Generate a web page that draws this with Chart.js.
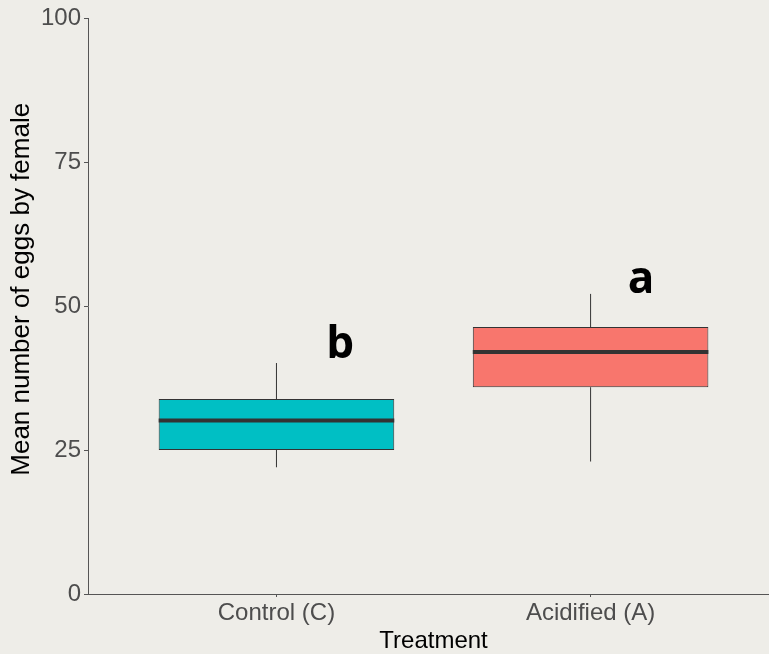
<!DOCTYPE html>
<html>
<head>
<meta charset="utf-8">
<script src="https://cdn.jsdelivr.net/npm/chart.js@4"></script>
<style>
  html, body { margin: 0; padding: 0; background: #EEEDE8; overflow: hidden; }
  #wrap { width: 769px; height: 654px; }
</style>
</head>
<body>
<div id="wrap"><canvas id="c" width="769" height="654"></canvas></div>
<script>
// Treatments and their box-plot summaries (eggs per female)
const categories = ['Control (C)', 'Acidified (A)'];
const positions = [1, 2];
const whiskerLow = [22.0, 23.0];
const q1 = [25.0, 35.9];
const median = [30.1, 42.0];
const q3 = [33.85, 46.35];
const whiskerHigh = [40.1, 52.1];
const fills = ['#00BFC4', '#F8766D'];

// Significance letters
const letters = ['b', 'a'];
const letterX = [1.2025, 2.161];
const letterY = [41.0, 52.3];

const yTicks = [0, 25, 50, 75, 100];
const xTitle = 'Treatment';
const yTitle = 'Mean number of eggs by female';
const boxHalf = 0.375;

const boxData = positions.map((x, i) => ({ x: x, y: [q1[i], q3[i]] }));

const medianData = [];
positions.forEach((x, i) => {
  if (i > 0) medianData.push({ x: x - 0.5, y: null });
  medianData.push({ x: x - boxHalf, y: median[i] });
  medianData.push({ x: x + boxHalf, y: median[i] });
});

const whiskerData = [];
positions.forEach((x, i) => {
  if (i > 0) whiskerData.push({ x: x - 0.5, y: null });
  whiskerData.push({ x: x, y: whiskerLow[i] });
  whiskerData.push({ x: x, y: q1[i] });
  whiskerData.push({ x: x + 0.001, y: null });
  whiskerData.push({ x: x, y: q3[i] });
  whiskerData.push({ x: x, y: whiskerHigh[i] });
});

const fontFamily = '"Liberation Sans", Arial, sans-serif';

// Letters above the boxes and the two axis titles
const textPlugin = {
  id: 'texts',
  afterDatasetsDraw(chart) {
    const { ctx, scales } = chart;
    ctx.save();
    ctx.fillStyle = '#000';
    ctx.font = 'bold 44px "Open Sans", sans-serif';
    ctx.textAlign = 'center';
    ctx.textBaseline = 'alphabetic';
    letters.forEach((t, i) => {
      ctx.fillText(t, scales.x.getPixelForValue(letterX[i]), scales.y.getPixelForValue(letterY[i]));
    });

    ctx.textBaseline = 'middle';
    ctx.font = '24px ' + fontFamily;
    ctx.fillText(xTitle, scales.x.getPixelForValue(1.5), 641);

    ctx.font = '26px ' + fontFamily;
    ctx.translate(22, scales.y.getPixelForValue(52.9));
    ctx.rotate(-Math.PI / 2);
    ctx.fillText(yTitle, 0, 0);
    ctx.restore();
  }
};

const tickFont = { family: fontFamily, size: 24 };

new Chart(document.getElementById('c'), {
  type: 'bar',
  data: {
    datasets: [
      {
        type: 'line',
        data: whiskerData,
        borderColor: '#333333',
        borderWidth: 1,
        pointRadius: 0,
        spanGaps: false,
        order: 3
      },
      {
        type: 'bar',
        data: boxData,
        backgroundColor: fills,
        borderColor: '#333333',
        borderWidth: 1,
        borderSkipped: false,
        categoryPercentage: 1,
        barPercentage: 0.75,
        order: 2
      },
      {
        type: 'line',
        data: medianData,
        borderColor: '#333333',
        borderWidth: 4,
        borderCapStyle: 'butt',
        pointRadius: 0,
        spanGaps: false,
        order: 1
      }
    ]
  },
  options: {
    responsive: false,
    animation: false,
    layout: { padding: { top: 18, right: 0, left: 0, bottom: 0 } },
    plugins: { legend: { display: false }, tooltip: { enabled: false } },
    scales: {
      x: {
        type: 'linear',
        offset: false,
        min: 0.4,
        max: 2.568,
        afterBuildTicks(scale) { scale.ticks = positions.map(v => ({ value: v })); },
        afterFit(scale) { scale.height = 60; },
        ticks: {
          color: '#4D4D4D',
          font: tickFont,
          padding: 2,
          callback: (v) => categories[positions.indexOf(v)] ?? ''
        },
        grid: { drawOnChartArea: false, offset: false, tickLength: 3, color: '#555555' },
        border: { display: true, color: '#555555', width: 1 }
      },
      y: {
        type: 'linear',
        min: 0,
        max: 100,
        afterBuildTicks(scale) { scale.ticks = yTicks.map(v => ({ value: v })); },
        afterFit(scale) { scale.width = 88; },
        ticks: { color: '#4D4D4D', font: tickFont, padding: 3 },
        grid: { drawOnChartArea: false, tickLength: 4, color: '#555555' },
        border: { display: true, color: '#555555', width: 1 }
      }
    }
  },
  plugins: [textPlugin]
});
</script>
</body>
</html>
